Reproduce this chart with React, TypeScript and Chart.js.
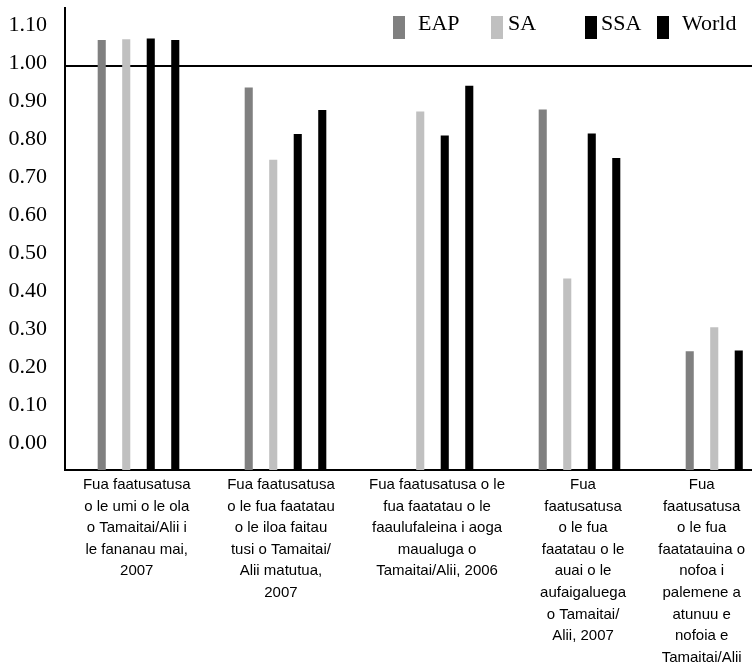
import { useEffect, useRef } from "react";
import { Chart, registerables } from "chart.js";

Chart.register(...registerables);

const categories: string[][] = [
  ["Fua faatusatusa", "o le umi o le ola", "o Tamaitai/Alii i", "le fananau mai,", "2007"],
  ["Fua faatusatusa", "o le fua faatatau", "o le iloa faitau", "tusi o Tamaitai/", "Alii matutua,", "2007"],
  ["Fua faatusatusa o le", "fua faatatau o le", "faaulufaleina i aoga", "maualuga o", "Tamaitai/Alii, 2006"],
  ["Fua", "faatusatusa", "o le fua", "faatatau o le", "auai o le", "aufaigaluega", "o Tamaitai/", "Alii, 2007"],
  ["Fua", "faatusatusa", "o le fua", "faatatauina o", "nofoa i", "palemene a", "atunuu e", "nofoia e", "Tamaitai/Alii"],
];

const seriesNames = ["EAP", "SA", "SSA", "World"];
const eapValues = [1.068, 0.943, null, 0.885, 0.25];
const saValues = [1.07, 0.753, 0.88, 0.441, 0.313];
const ssaValues = [1.072, 0.821, 0.817, 0.822, 0.252];
const worldValues = [1.068, 0.884, 0.948, 0.758, null];
const seriesColors = ["#808080", "#c0c0c0", "#000000", "#000000"];

const yTicks = [0.0, 0.1, 0.2, 0.3, 0.4, 0.5, 0.6, 0.7, 0.8, 0.9, 1.0, 1.1];
const yMin = -0.062;
const yMax = 1.152;

// positions of the category label blocks, in category units (label axis runs 0..5)
const labelPositions = [0.488, 1.469, 2.531, 3.524, 4.331];

const legendPlugin = {
  id: "customLegend",
  afterDraw(chart: any) {
    const ctx = chart.ctx;
    const pos = [
      [393, 418],
      [491, 508],
      [585, 601],
      [657, 682],
    ];
    ctx.save();
    chart.data.datasets.forEach((ds: any, i: number) => {
      ctx.fillStyle = ds.backgroundColor;
      ctx.fillRect(pos[i][0], 16, 12, 23);
      ctx.fillStyle = "#000";
      ctx.font = '22px "Liberation Serif"';
      ctx.textBaseline = "alphabetic";
      ctx.textAlign = "left";
      ctx.fillText(ds.label, pos[i][1], 30);
    });
    ctx.restore();
  },
};

const zeroPadding = (scale: any) => {
  scale.paddingLeft = 0;
  scale.paddingRight = 0;
  scale.paddingTop = 0;
  scale.paddingBottom = 0;
};

export default function App() {
  const ref = useRef<HTMLCanvasElement | null>(null);

  useEffect(() => {
    if (!ref.current) return;
    const values = [eapValues, saValues, ssaValues, worldValues];
    const chart = new Chart(ref.current, {
      type: "bar",
      data: {
        labels: categories,
        datasets: seriesNames.map((name, i) => ({
          label: name,
          data: values[i],
          backgroundColor: seriesColors[i],
          borderWidth: 0,
          barPercentage: 0.33,
          categoryPercentage: 0.667,
          base: yMin,
          xAxisID: "x",
        })),
      },
      options: {
        animation: false,
        responsive: true,
        maintainAspectRatio: false,
        layout: { padding: { left: 8, top: 8, right: 0, bottom: 0 } },
        plugins: {
          legend: { display: false },
          tooltip: { enabled: false },
        },
        scales: {
          x: {
            weight: 0,
            afterFit: (scale: any) => {
              zeroPadding(scale);
              scale.height = 0;
            },
            grid: { display: false, drawTicks: false, tickLength: 0 },
            border: { display: true, color: "#000", width: 2 },
            ticks: { display: false },
          },
          xLabels: {
            type: "linear",
            position: "bottom",
            offset: false,
            weight: 1,
            min: 0,
            max: categories.length,
            afterBuildTicks: (scale: any) => {
              scale.ticks = labelPositions.map((v) => ({ value: v }));
            },
            afterFit: (scale: any) => {
              zeroPadding(scale);
              scale.height = 196;
            },
            grid: { display: false, drawTicks: false, tickLength: 0, offset: false },
            border: { display: false },
            ticks: {
              color: "#000",
              font: { family: '"Liberation Sans"', size: 15, lineHeight: 1.44 },
              padding: 4,
              maxRotation: 0,
              minRotation: 0,
              autoSkip: false,
              callback: (_v: any, index: number) => categories[index],
            },
          },
          y: {
            min: yMin,
            max: yMax,
            afterFit: (scale: any) => {
              zeroPadding(scale);
              scale.width = 57;
            },
            afterBuildTicks: (scale: any) => {
              scale.ticks = yTicks.map((v) => ({ value: v }));
            },
            grid: {
              drawTicks: false,
              lineWidth: 2,
              color: (ctx: any) => (ctx.tick && ctx.tick.value === 1 ? "#000" : "rgba(0,0,0,0)"),
            },
            border: { display: true, color: "#000", width: 2 },
            ticks: {
              color: "#000",
              font: { family: '"Liberation Serif"', size: 22 },
              padding: 18,
              labelOffset: -3,
              callback: (v: any) => Number(v).toFixed(2),
            },
          },
        },
      },
      plugins: [legendPlugin],
    });
    return () => chart.destroy();
  }, []);

  return (
    <div style={{ position: "absolute", left: 0, top: 0, width: 752, height: 666, overflow: "hidden" }}>
      <div style={{ position: "relative", width: 800, height: 666 }}>
        <canvas ref={ref} />
      </div>
    </div>
  );
}
